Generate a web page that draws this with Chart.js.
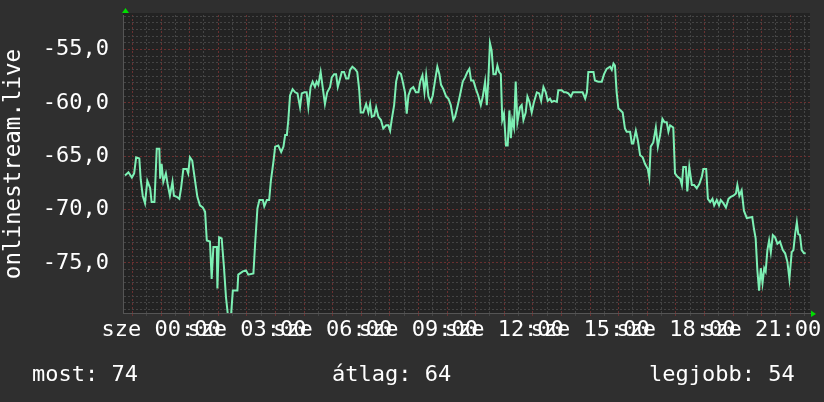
<!DOCTYPE html>
<html>
<head>
<meta charset="utf-8">
<script src="https://cdn.jsdelivr.net/npm/chart.js@4/dist/chart.umd.min.js"></script>
<style>
  html, body { margin: 0; padding: 0; background: #2f2f2f; }
  canvas { display: block; }
</style>
</head>
<body>
<canvas id="signal" width="824" height="402"></canvas>
<script>
// hours since midnight (negative = previous evening)
const hours = [
  -1.26, -1.14, -1.02, -0.94, -0.87, -0.76, -0.71, -0.64, -0.56, -0.48, -0.38, -0.33, -0.23, -0.15, -0.06, -0.03,
  0.02, 0.08, 0.17, 0.23, 0.31, 0.40, 0.45, 0.55, 0.64, 0.70, 0.78, 0.90, 0.95, 1.01, 1.09, 1.19, 1.27, 1.36, 1.46,
  1.54, 1.60, 1.71, 1.77, 1.83, 1.95, 1.97, 2.03, 2.12, 2.20, 2.27, 2.35, 2.44, 2.51, 2.67, 2.70, 2.86, 2.97, 3.05,
  3.23, 3.29, 3.37, 3.44, 3.56, 3.61, 3.70, 3.78, 3.84, 3.93, 3.99, 4.10, 4.20, 4.28, 4.34, 4.40, 4.45, 4.51, 4.60,
  4.69, 4.77, 4.86, 4.92, 5.01, 5.09, 5.15, 5.23, 5.30, 5.38, 5.44, 5.50, 5.58, 5.65, 5.73, 5.81, 5.91, 5.97, 6.05,
  6.12, 6.18, 6.26, 6.32, 6.40, 6.47, 6.55, 6.61, 6.69, 6.78, 6.86, 6.93, 6.98, 7.07, 7.17, 7.25, 7.31, 7.37, 7.45,
  7.52, 7.60, 7.69, 7.77, 7.87, 7.95, 8.01, 8.07, 8.15, 8.22, 8.30, 8.39, 8.45, 8.53, 8.59, 8.65, 8.73, 8.82, 8.91,
  9.00, 9.06, 9.14, 9.21, 9.27, 9.35, 9.43, 9.50, 9.58, 9.66, 9.73, 9.79, 9.87, 9.97, 10.05, 10.13, 10.22, 10.28,
  10.36, 10.45, 10.55, 10.63, 10.71, 10.78, 10.84, 10.92, 11.01, 11.09, 11.18, 11.25, 11.33, 11.39, 11.44, 11.50,
  11.56, 11.62, 11.70, 11.76, 11.82, 11.88, 11.93, 11.99, 12.06, 12.12, 12.18, 12.23, 12.28, 12.34, 12.40, 12.46,
  12.55, 12.61, 12.67, 12.75, 12.81, 12.88, 12.96, 13.04, 13.14, 13.22, 13.29, 13.37, 13.45, 13.52, 13.60, 13.66,
  13.74, 13.84, 13.89, 14.01, 14.09, 14.16, 14.24, 14.33, 14.40, 14.74, 14.83, 14.89, 14.94, 15.12, 15.17, 15.29,
  15.41, 15.49, 15.58, 15.70, 15.76, 15.82, 15.87, 15.93, 15.99, 16.14, 16.22, 16.28, 16.40, 16.46, 16.51, 16.60,
  16.67, 16.75, 16.84, 16.92, 17.02, 17.07, 17.12, 17.21, 17.30, 17.37, 17.45, 17.53, 17.60, 17.68, 17.74, 17.80,
  17.91, 17.97, 18.05, 18.15, 18.21, 18.26, 18.35, 18.40, 18.47, 18.56, 18.64, 18.73, 18.82, 18.91, 18.96, 19.06,
  19.12, 19.20, 19.28, 19.34, 19.43, 19.51, 19.57, 19.66, 19.75, 19.84, 19.92, 20.01, 20.10, 20.15, 20.22, 20.30,
  20.38, 20.48, 20.67, 20.73, 20.79, 20.85, 20.91, 20.97, 21.03, 21.09, 21.14, 21.20, 21.26, 21.32, 21.39, 21.47,
  21.55, 21.64, 21.74, 21.82, 21.90, 21.97, 22.05, 22.11, 22.17, 22.23, 22.28, 22.34, 22.40, 22.48, 22.54
];

// signal level, dBm
const signal = [
  -66.8, -66.5, -67.0, -66.6, -65.1, -65.2, -67.2, -68.7, -69.4, -67.3, -68.0, -69.3, -69.3, -64.3, -64.3, -67.1,
  -65.7, -67.4, -66.6, -67.6, -68.7, -67.4, -68.7, -68.8, -69.0, -68.0, -66.2, -66.2, -66.6, -65.1, -65.4, -67.3, -68.8, -69.6, -69.8,
  -70.2, -72.9, -73.0, -76.5, -73.5, -73.5, -77.4, -72.6, -72.7, -75.4, -78.2, -80.2, -80.2, -77.6, -77.6, -76.1, -75.8, -75.7, -76.1,
  -76.0, -73.2, -69.9, -69.1, -69.1, -69.7, -69.1, -69.1, -67.3, -65.5, -64.1, -64.0, -64.6, -64.1, -63.0, -63.0, -61.6, -59.3, -58.7,
  -59.0, -59.1, -60.4, -59.1, -59.0, -59.0, -60.4, -58.5, -58.0, -58.5, -58.0, -58.3, -57.1, -58.5, -60.1, -59.0, -58.5, -57.6, -57.3,
  -57.3, -58.5, -57.7, -57.1, -57.1, -57.7, -57.7, -56.9, -56.6, -56.8, -57.1, -58.8, -60.9, -60.9, -60.1, -60.9, -60.1, -61.3, -61.2,
  -60.4, -61.3, -61.6, -62.4, -62.1, -62.1, -62.6, -61.5, -60.2, -58.0, -57.1, -57.3, -58.0, -59.0, -61.0, -59.3, -58.7, -58.5, -59.0,
  -59.0, -58.0, -57.4, -59.0, -57.4, -59.4, -59.9, -59.3, -57.9, -56.6, -57.3, -58.3, -58.7, -59.4, -59.6, -60.2, -61.6, -61.3,
  -60.4, -59.3, -58.0, -57.6, -57.1, -56.8, -57.9, -57.9, -58.7, -59.3, -60.2, -59.4, -58.0, -60.2, -58.0, -54.4,
  -55.1, -57.3, -57.3, -56.5, -57.1, -57.3, -61.6, -61.0, -64.0, -64.0, -60.7, -63.3, -61.6, -62.3, -58.0, -61.8,
  -60.4, -60.2, -61.6, -60.9, -59.4, -59.9, -60.9, -59.9, -59.0, -59.1, -59.8, -58.5, -59.0, -59.8, -59.6, -59.9,
  -59.8, -59.9, -58.8, -58.8, -59.0, -59.0, -59.1, -59.4, -59.0, -59.0, -59.6, -59.0, -57.1, -57.1, -57.9, -58.0,
  -58.0, -57.3, -56.8, -56.6, -56.9, -56.3, -56.5, -59.0, -60.5, -60.9, -62.4, -62.7, -62.7, -63.8, -63.8, -62.6,
  -63.5, -64.9, -65.1, -65.7, -66.2, -67.0, -64.1, -63.7, -62.3, -64.1, -63.0, -61.5, -61.8, -61.8, -62.7, -62.1,
  -62.3, -66.6, -66.9, -67.1, -67.7, -66.0, -66.0, -68.3, -66.0, -67.7, -67.7, -68.0, -67.6, -66.9, -66.2, -66.2,
  -69.0, -69.3, -69.0, -69.6, -69.1, -69.6, -69.1, -69.4, -69.8, -69.0, -68.8, -68.7, -68.5, -67.7, -68.7, -68.2,
  -70.1, -70.8, -70.7, -71.8, -72.7, -75.7, -77.6, -75.5, -76.9, -75.5, -75.8, -73.8, -72.9, -74.0, -72.4, -72.6,
  -73.2, -73.0, -73.8, -74.1, -74.9, -76.5, -74.0, -73.8, -72.3, -71.2, -72.3, -72.4, -73.8, -74.1, -74.1
];

const xTickHours = [0, 3, 6, 9, 12, 15, 18, 21];
const xTickLabels = ['sze 00:00', 'sze 03:00', 'sze 06:00', 'sze 09:00', 'sze 12:00', 'sze 15:00', 'sze 18:00', 'sze 21:00'];
const yTickValues = [-75, -70, -65, -60, -55];
const yTitle = 'onlinestream.live';
const legendItems = ['most: 74', 'átlag: 64', 'legjobb: 54'];

const FONT = 'DejaVu Sans Mono';
const MAJOR = '#6a3030';
const MINOR = '#444444';

Chart.defaults.font.family = FONT;
Chart.defaults.color = '#ffffff';

// dark plot area, rrdtool style arrows and the summary line under the graph
const rrdDecor = {
  id: 'rrdDecor',
  beforeDraw(chart) {
    const { ctx, chartArea: a } = chart;
    ctx.save();
    ctx.fillStyle = '#232323';
    ctx.fillRect(a.left, a.top - 2, a.right - a.left, a.bottom - a.top + 2);
    ctx.restore();
  },
  afterDraw(chart) {
    const { ctx, chartArea: a } = chart;
    ctx.save();
    ctx.fillStyle = '#00dd00';
    ctx.beginPath();
    ctx.moveTo(a.left - 1, a.top - 2);
    ctx.lineTo(a.left + 6, a.top - 2);
    ctx.lineTo(a.left + 2.5, a.top - 7);
    ctx.fill();
    ctx.beginPath();
    ctx.moveTo(a.right + 1, a.bottom - 2.5);
    ctx.lineTo(a.right + 1, a.bottom + 4);
    ctx.lineTo(a.right + 6, a.bottom + 1);
    ctx.fill();

    ctx.fillStyle = '#ffffff';
    ctx.font = '22px "' + FONT + '"';
    ctx.textBaseline = 'middle';
    ctx.textAlign = 'left';
    ctx.fillText(legendItems[0], 32, 375);
    ctx.fillText(legendItems[1], 332, 375);
    ctx.fillText(legendItems[2], 649, 375);
    ctx.restore();
  }
};

new Chart(document.getElementById('signal').getContext('2d'), {
  type: 'line',
  data: {
    datasets: [{
      data: hours.map((h, i) => ({ x: h, y: signal[i] })),
      borderColor: '#7df0b4',
      borderWidth: 2,
      pointRadius: 0,
      tension: 0,
      fill: false
    }]
  },
  options: {
    responsive: false,
    animation: false,
    layout: { padding: { top: 15, right: 14, left: 0, bottom: 0 } },
    plugins: { legend: { display: false }, tooltip: { enabled: false } },
    scales: {
      x: {
        type: 'linear',
        min: -1.33,
        max: 22.69,
        afterFit: (scale) => {
          scale.height = 89;
          scale.paddingLeft = 0;
          scale.paddingRight = 0;
        },
        afterBuildTicks: (scale) => {
          const t = [];
          for (let v = -1; v <= 22.5; v += 0.5) t.push({ value: v });
          scale.ticks = t;
        },
        grid: {
          color: (c) => (c.tick && c.tick.value % 1 === 0 ? MAJOR : MINOR),
          lineWidth: 1,
          drawTicks: true,
          tickLength: 3
        },
        border: { display: true, color: '#555555', dash: [2, 2] },
        ticks: {
          autoSkip: false,
          maxRotation: 0,
          minRotation: 0,
          padding: 1,
          color: '#ffffff',
          font: { size: 22 },
          callback: (value) => {
            const i = xTickHours.indexOf(value);
            return i >= 0 ? xTickLabels[i] : '';
          }
        }
      },
      y: {
        min: -79.7,
        max: -51.75,
        afterFit: (scale) => {
          scale.width = 123;
          scale.paddingTop = 0;
          scale.paddingBottom = 0;
        },
        afterBuildTicks: (scale) => {
          const t = [];
          for (let v = -80; v <= -51.75; v += 0.625) if (v >= scale.min) t.push({ value: v });
          scale.ticks = t;
        },
        grid: {
          color: (c) => (c.tick && c.tick.value % 5 === 0 ? MAJOR : MINOR),
          lineWidth: 1,
          drawTicks: false
        },
        border: { display: true, color: '#555555', dash: [2, 2] },
        title: {
          display: true,
          text: yTitle,
          color: '#ffffff',
          font: { size: 22.5 },
          padding: { top: 1, bottom: 0 }
        },
        ticks: {
          autoSkip: false,
          padding: 14,
          color: '#ffffff',
          font: { size: 22 },
          callback: (value) => (yTickValues.includes(value) ? value.toFixed(1).replace('.', ',') : '')
        }
      }
    }
  },
  plugins: [rrdDecor]
});
</script>
</body>
</html>
